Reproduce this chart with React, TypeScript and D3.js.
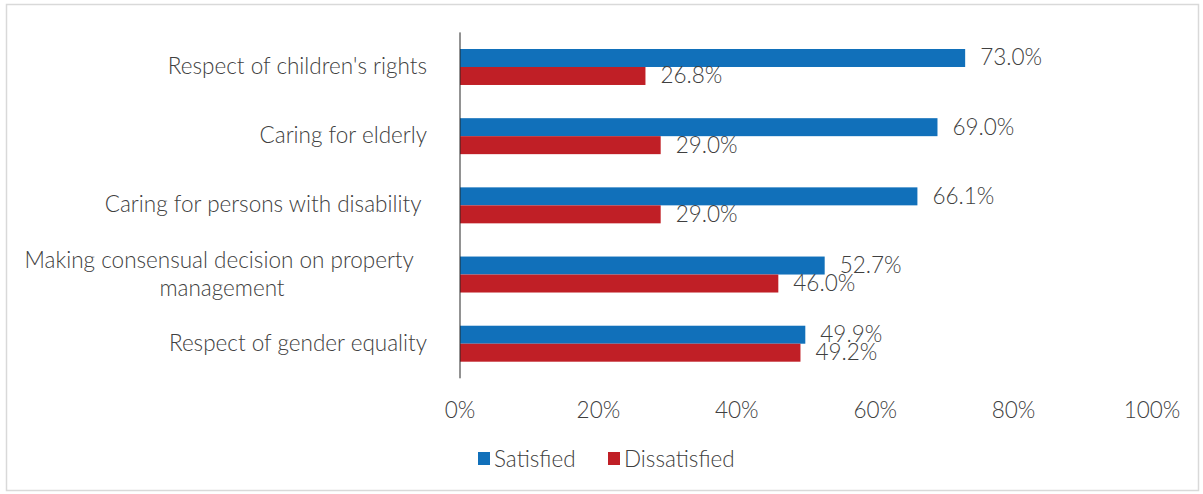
import React from "react";
import * as d3 from "d3";

const categories: string[][] = [
  ["Respect of children's rights"],
  ["Caring for elderly"],
  ["Caring for persons with disability "],
  ["Making consensual decision on property ", "management"],
  ["Respect of gender equality"],
];
const seriesNames = ["Satisfied", "Dissatisfied"];
const satisfied = [0.73, 0.69, 0.661, 0.527, 0.499];
const dissatisfied = [0.268, 0.29, 0.29, 0.46, 0.492];
const xTicks = [0, 0.2, 0.4, 0.6, 0.8, 1.0];
const colors = ["#1170BA", "#C01F26"];

const W = 1203;
const H = 494;
const FONT = "Lato, 'Open Sans', sans-serif";
const TEXT = "#404040";
const FS = 22.5;

export default function App() {
  const x = d3.scaleLinear().domain([0, 1]).range([460, 1152]);
  const y = d3
    .scaleBand<number>()
    .domain(categories.map((_, i) => i))
    .range([32.4, 378.3])
    .paddingInner(0.48)
    .paddingOuter(0.24);
  const inner = d3
    .scaleBand<number>()
    .domain([0, 1])
    .range([0, y.bandwidth()]);
  const series = [satisfied, dissatisfied];
  const fmt = d3.format(".1%");
  const tickFmt = d3.format(".0%");

  return (
    <svg
      width={W}
      height={H}
      style={{ position: "absolute", left: 0, top: 0 }}
      fontFamily={FONT}
      fontWeight={300}
    >
      <rect x={0} y={0} width={W} height={H} fill="#fff" />
      <rect x={6.5} y={4.5} width={1192} height={486} fill="#fff" stroke="#D9D9D9" strokeWidth={1.5} />
      {series.map((vals, s) =>
        vals.map((v, i) => (
          <rect
            key={`b${s}-${i}`}
            x={x(0)}
            y={(y(i) as number) + (inner(s) as number)}
            width={x(v) - x(0)}
            height={inner.bandwidth()}
            fill={colors[s]}
          />
        ))
      )}
      {series.map((vals, s) =>
        vals.map((v, i) => (
          <text
            key={`l${s}-${i}`}
            x={x(v) + 15}
            y={(y(i) as number) + (inner(s) as number) + inner.bandwidth() / 2 - 1}
            dominantBaseline="central"
            fontSize={FS}
            fill={TEXT}
          >
            {fmt(v)}
          </text>
        ))
      )}
      <line x1={x(0)} x2={x(0)} y1={32.4} y2={378.3} stroke="#262626" strokeWidth={1} />
      {categories.map((lines, i) => {
        const cy = (y(i) as number) + y.bandwidth() / 2 - 1.5;
        if (lines.length === 1) {
          return (
            <text
              key={`c${i}`}
              x={427}
              y={cy}
              textAnchor="end"
              dominantBaseline="central"
              fontSize={FS}
              fill={TEXT}
              style={{ whiteSpace: "pre" }}
            >
              {lines[0]}
            </text>
          );
        }
        return (
          <text key={`c${i}`} fontSize={FS} fill={TEXT} textAnchor="middle" style={{ whiteSpace: "pre" }}>
            {lines.map((ln, k) => (
              <tspan
                key={k}
                x={222}
                y={cy + (k - (lines.length - 1) / 2) * 28}
                dominantBaseline="central"
              >
                {ln}
              </tspan>
            ))}
          </text>
        );
      })}
      {xTicks.map((t) => (
        <text
          key={`t${t}`}
          x={x(t)}
          y={409}
          textAnchor="middle"
          dominantBaseline="central"
          fontSize={FS}
          fill={TEXT}
        >
          {tickFmt(t)}
        </text>
      ))}
      <g>
        <rect x={478} y={452} width={12} height={13} fill={colors[0]} />
        <text x={494} y={458} dominantBaseline="central" fontSize={FS} fill={TEXT}>
          {seriesNames[0]}
        </text>
        <rect x={608} y={452} width={12} height={13} fill={colors[1]} />
        <text x={624} y={458} dominantBaseline="central" fontSize={FS} fill={TEXT}>
          {seriesNames[1]}
        </text>
      </g>
    </svg>
  );
}
